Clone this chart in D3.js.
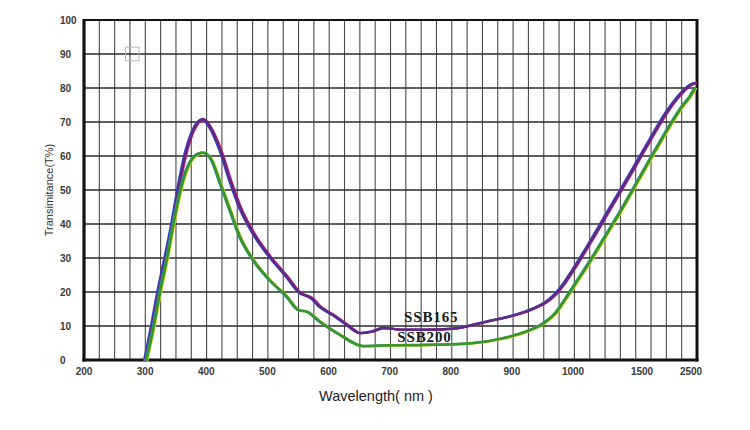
<!DOCTYPE html>
<html>
<head>
<meta charset="utf-8">
<script src="https://cdn.jsdelivr.net/npm/d3@7"></script>
<style>
  html, body { margin: 0; padding: 0; background: #fff; }
  svg { display: block; }
</style>
</head>
<body>
<svg id="chart" width="750" height="430"></svg>
<script>
// ---- data ----
const xTickValues = [200, 300, 400, 500, 600, 700, 800, 900, 1000, 1500, 2500];
const yTickValues = [0, 10, 20, 30, 40, 50, 60, 70, 80, 90, 100];
const seriesNames = ["SSB165", "SSB200"];

const ssb165 = [
  [300, 0], [311, 9.8], [321, 19.6], [333, 29.9], [344, 39.7], [354, 50], [365, 59.8],
  [379, 67.6], [395, 70.8], [406, 68.6], [423, 61.8], [439, 52.9], [455, 45], [477, 37.3],
  [504, 30.4], [532, 24.5], [553, 19.8], [573, 18.1], [586, 15.7], [608, 13.2], [630, 10.4],
  [652, 7.9], [670, 8.3], [690, 9.4], [722, 8.9], [760, 8.9], [804, 9.2], [859, 11.3],
  [914, 13.7], [935, 15.1], [955, 16.9], [971, 19.3], [986, 22.6], [1000, 26.4],
  [1123, 34.5], [1268, 44.5], [1413, 54.5], [1651, 64.7], [1972, 73], [2217, 78],
  [2406, 80.8], [2500, 81.4]
];
const ssb200 = [
  [302, 0], [314, 9.8], [324, 19.6], [336, 29.9], [346, 39.7], [358, 50], [367, 55.5],
  [375, 58.6], [385, 60.5], [395, 61], [409, 58.8], [423, 52], [439, 44.1], [455, 36.3],
  [477, 29.4], [504, 23.5], [532, 18.6], [551, 14.7], [565, 14.2], [586, 11.3], [619, 7.4],
  [657, 4.1], [700, 4.3], [750, 4.4], [832, 4.9], [886, 6.4], [930, 8.8], [952, 10.8],
  [971, 13.7], [990, 18.6], [1027, 23], [1123, 29], [1232, 36.2], [1341, 43.5],
  [1486, 53.8], [1745, 61.5], [2028, 69], [2255, 74.5], [2406, 77.5], [2500, 79.9]
];
// label anchor points (wavelength, value) for the series names
const labelAnchors = [[768, 11.3], [757, 5.4]];

// ---- layout ----
const svg = d3.select("#chart");
const pL = 84, pR = 697, pT = 20, pB = 360;

// piecewise axis: 200..1000 linear, then compressed 1000..1500..2500
const x = d3.scaleLinear()
  .domain([200, 1000, 1500, 2500])
  .range([pL, 573, 642, 695]);
const y = d3.scaleLinear().domain([0, 100]).range([pB, pT]);

// vertical grid: 40 equal divisions across plot
const gridIdx = d3.range(1, 40);
const gx = d3.scaleLinear().domain([0, 40]).range([pL, pR]);

const grid = svg.append("g");
grid.selectAll("line.v").data(gridIdx).join("line")
  .attr("class", "v")
  .attr("x1", d => gx(d)).attr("x2", d => gx(d))
  .attr("y1", pT).attr("y2", pB)
  .attr("stroke", "#4a4a4a").attr("stroke-width", 1.1);
grid.selectAll("line.h").data(yTickValues.slice(1, -1)).join("line")
  .attr("class", "h")
  .attr("x1", pL).attr("x2", pR)
  .attr("y1", d => y(d)).attr("y2", d => y(d))
  .attr("stroke", "#2a2a2a").attr("stroke-width", 1.4);

// small square artifact
svg.append("rect")
  .attr("x", x(268)).attr("y", y(92))
  .attr("width", x(290) - x(268)).attr("height", y(88) - y(92))
  .attr("fill", "none").attr("stroke", "#b4b8c8").attr("stroke-width", 1);

// frame
svg.append("line").attr("x1", pL).attr("x2", pR).attr("y1", pT).attr("y2", pT)
  .attr("stroke", "#111").attr("stroke-width", 2.2);
svg.append("line").attr("x1", pR).attr("x2", pR).attr("y1", pT - 1).attr("y2", pB + 1.5)
  .attr("stroke", "#111").attr("stroke-width", 3);
svg.append("line").attr("x1", pL).attr("x2", pL).attr("y1", pT - 1).attr("y2", pB + 1.5)
  .attr("stroke", "#111").attr("stroke-width", 3.2);
svg.append("line").attr("x1", pL - 1.5).attr("x2", pR + 1.5).attr("y1", pB).attr("y2", pB)
  .attr("stroke", "#111").attr("stroke-width", 3.2);

// curves
const line = d3.line().x(d => x(d[0])).y(d => y(d[1])).curve(d3.curveMonotoneX);
const curves = svg.append("g").attr("fill", "none").attr("stroke-linejoin", "round").attr("stroke-linecap", "round");

// SSB165: blue/magenta double print -> purple
curves.append("path").datum(ssb165).attr("d", line)
  .attr("transform", "translate(-1,0)").attr("stroke", "#3446c4").attr("stroke-width", 2.4);
curves.append("path").datum(ssb165).attr("d", line)
  .attr("transform", "translate(1,0)").attr("stroke", "#c01870").attr("stroke-width", 2.2);
curves.append("path").datum(ssb165).attr("d", line)
  .attr("stroke", "#5e2a84").attr("stroke-width", 2.4);

// SSB200: yellow/blue edges -> green
curves.append("path").datum(ssb200).attr("d", line)
  .attr("transform", "translate(-0.9,0)").attr("stroke", "#2f8fb0").attr("stroke-width", 2.2);
curves.append("path").datum(ssb200).attr("d", line)
  .attr("transform", "translate(1,0.4)").attr("stroke", "#e0e020").attr("stroke-width", 2.2);
curves.append("path").datum(ssb200).attr("d", line)
  .attr("stroke", "#3a962c").attr("stroke-width", 2.8);

// series labels
svg.append("g").selectAll("text").data(seriesNames).join("text")
  .attr("x", (d, i) => x(labelAnchors[i][0]))
  .attr("y", (d, i) => y(labelAnchors[i][1]))
  .attr("text-anchor", "middle")
  .attr("font-family", "'Liberation Serif', 'Times New Roman', serif")
  .attr("font-weight", "bold").attr("font-size", 15).attr("letter-spacing", 0.9)
  .attr("fill", "#1a1a1a")
  .text(d => d);

// y tick labels
svg.append("g").selectAll("text").data(yTickValues).join("text")
  .attr("x", 60).attr("y", d => y(d)).attr("dy", "0.35em")
  .attr("font-family", "'Liberation Sans', Arial, sans-serif")
  .attr("font-size", 10).attr("font-weight", "bold").attr("fill", "#3a3a3a")
  .text(d => d);

// x tick labels
svg.append("g").selectAll("text").data(xTickValues).join("text")
  .attr("x", d => x(d) - (d === 2500 ? 4 : 0)).attr("y", 375)
  .attr("text-anchor", "middle")
  .attr("font-family", "'Liberation Sans', Arial, sans-serif")
  .attr("font-size", 10).attr("font-weight", "bold").attr("fill", "#3a3a3a")
  .text(d => d);

// axis titles
svg.append("text").attr("x", 376).attr("y", 401).attr("text-anchor", "middle")
  .attr("font-family", "'Liberation Sans', Arial, sans-serif")
  .attr("font-size", 14.5).attr("fill", "#222")
  .text("Wavelength( nm )");
svg.append("text").attr("transform", "translate(53,190) rotate(-90)").attr("text-anchor", "middle")
  .attr("font-family", "'Liberation Sans', Arial, sans-serif")
  .attr("font-size", 11).attr("fill", "#333")
  .text("Transimitance(T%)");
</script>
</body>
</html>
